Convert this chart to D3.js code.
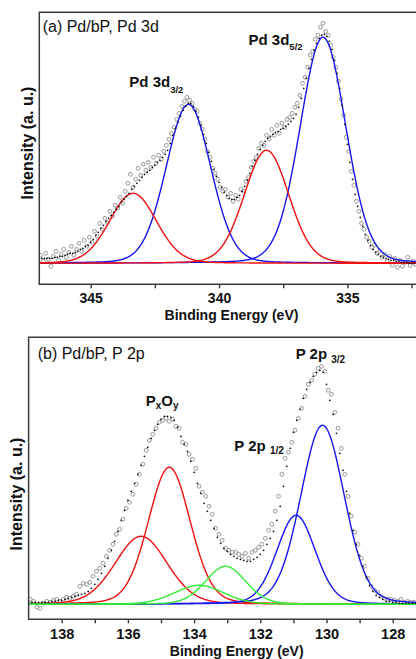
<!DOCTYPE html>
<html><head><meta charset="utf-8">
<script src="https://cdn.jsdelivr.net/npm/d3@7/dist/d3.min.js"></script>
<style>
body{margin:0;background:#fff}
svg{display:block}
text{font-family:"Liberation Sans",Arial,Helvetica,sans-serif;fill:#111}
</style>
</head><body>
<svg id="chart" width="416" height="659"></svg>
<script>
// ---------- Panel (a): Pd 3d ----------
const pdStart = 347.0, pdCircStart = 346.95, pdStep = 0.1;
const pdEnvelope = [
  5,5,5,5,5,5,6,6,7,7,
  8,9,10,10,11,12,14,15,17,18,
  21,24,28,31,35,38,42,45,48,51,
  54,57,61,64,67,70,74,77,80,83,
  86,89,91,93,96,98,101,103,106,109,
  113,120,128,135,141,147,153,157,160,160,
  157,152,146,138,129,120,111,102,94,87,
  81,76,71,68,65,64,64,66,68,72,
  77,83,90,97,103,109,114,118,122,125,
  127,129,131,132,134,135,137,139,142,145,
  149,156,165,175,185,195,204,213,220,225,
  228,229,227,222,214,203,190,175,158,139,
  119,101,84,69,57,46,37,29,23,18,
  14,11,9,7,6,5,4,3,3,2,
  2,1,1,1,0,0,0,0
];
const pdCircles = [
  8,2,10,4,-3,7,12,3,9,14,
  6,11,17,8,14,20,12,23,17,26,
  21,32,27,40,34,45,41,52,47,58,
  55,66,60,72,80,89,76,84,95,88,
  99,93,101,96,106,100,108,104,112,118,
  124,130,136,144,150,157,162,166,163,160,
  154,152,140,134,124,112,106,95,90,84,
  76,72,74,66,70,62,68,64,74,72,
  82,86,96,102,106,115,120,118,128,124,
  134,128,138,130,140,136,144,146,150,156,
  160,168,180,186,196,208,212,224,228,236,
  240,232,228,218,206,196,182,164,148,126,
  112,92,78,62,52,40,34,26,22,16,
  18,10,12,6,9,2,7,-2,5,-4,
  3,-3,1,6,-2,2,-1
];
const pdPeakStates  = ["Pd2+", "Pd0", "Pd2+", "Pd0"];
const pdPeakCenters = [343.35, 341.19, 338.15, 335.95];
const pdPeakHeights = [70, 159, 113, 226];
const pdPeakFwhm    = [2.15, 2.05, 2.05, 2.1];
const pdMajorTicks = [345, 340, 335];
const pdMinorTicks = [342.5, 337.5, 332.5];

// ---------- Panel (b): P 2p ----------
const pStart = 139.0, pCircStart = 138.95, pStep = 0.1;
const pEnvelope = [
  2,2,2,2,2,2,2,3,3,4,
  4,5,6,7,8,9,10,11,13,16,
  20,25,31,38,46,54,63,73,84,94,
  104,113,121,130,139,148,157,166,174,180,
  185,188,188,187,184,177,168,160,153,143,
  132,121,111,101,93,84,76,67,61,56,
  53,50,48,46,45,44,43,43,45,47,
  50,54,60,66,73,84,98,118,138,156,
  172,184,195,206,215,222,228,232,234,232,
  220,204,190,171,151,134,113,91,74,60,
  49,38,27,19,13,9,7,5,3,3,
  2,2,1,1,1,1,1,1
];
const pCircles = [
  5,3,-3,-4,1,3,2,4,5,3,
  5,7,6,8,10,18,21,20,22,28,
  33,36,41,48,54,60,70,75,85,96,
  102,110,120,130,140,154,164,170,176,182,
  184,186,183,185,178,176,162,160,150,145,
  136,118,112,108,98,90,76,70,64,56,
  54,52,52,50,48,51,46,52,54,57,
  60,66,74,80,93,108,130,146,152,162,
  174,186,196,208,220,224,230,236,238,233,
  214,210,192,176,156,130,108,88,72,60,
  46,38,26,18,14,12,8,6,5,5,
  4,3,5,2,3,2,2
];
const pPeakStates  = ["PxOy", "PxOy", "P-Pd", "P-Pd", "bP", "bP"];
const pPeakCenters = [135.6, 134.75, 133.85, 133.05, 130.92, 130.12];
const pPeakHeights = [68, 137, 19, 38, 89, 179];
const pPeakFwhm    = [1.86, 1.5, 1.76, 1.44, 1.37, 1.56];
const pMajorTicks = [138, 136, 134, 132, 130, 128];
const pMinorTicks = [137, 135, 133, 131, 129];

// ---------- styles ----------
const stateColor = {"Pd0":"#1515f0","Pd2+":"#f01010","PxOy":"#f01010","P-Pd":"#33ee33","bP":"#1515f0"};
const frameColor = "#3a3a3a";

const svg = d3.select("#chart");

function pseudoVoigt(x, c, h, w, eta){
  const d = (x - c) / w;
  return h * ((1 - eta) * Math.exp(-4 * Math.LN2 * d * d) + eta / (1 + 4 * d * d));
}

function drawPanel(cfg){
  const x = d3.scaleLinear().domain(cfg.xDomain).range(cfg.xRange);
  const y = d3.scaleLinear().domain(cfg.yDomain).range(cfg.yRange);
  const g = svg.append("g");
  const [x0, x1] = cfg.xRange, [yb, yt] = cfg.yRange;

  g.append("clipPath").attr("id", cfg.id + "clip")
    .append("rect").attr("x", x0).attr("y", yt).attr("width", x1 - x0).attr("height", yb - yt);
  const plot = g.append("g").attr("clip-path", `url(#${cfg.id}clip)`);

  // data circles
  plot.append("g").selectAll("circle").data(cfg.circles).join("circle")
    .attr("cx", (v, i) => x(cfg.circStart - i * cfg.step))
    .attr("cy", v => y(v))
    .attr("r", 1.9).attr("fill", "none").attr("stroke", "#8c8c8c").attr("stroke-width", 0.9);

  // fitted components
  const grid = d3.range(cfg.xDomain[0], cfg.xDomain[1], -0.02).concat([cfg.xDomain[1]]);
  const line = d3.line().x(d => x(d[0])).y(d => y(d[1]));
  cfg.order.forEach(state => {
    cfg.centers.forEach((c, k) => {
      if (cfg.states[k] !== state) return;
      const pts = grid.map(e => [e, pseudoVoigt(e, c, cfg.heights[k], cfg.fwhm[k], cfg.eta)]);
      plot.append("path").attr("d", line(pts)).attr("fill", "none")
        .attr("stroke", stateColor[state]).attr("stroke-width", cfg.lw);
    });
  });

  // envelope dots
  plot.append("g").selectAll("circle").data(cfg.envelope).join("circle")
    .attr("cx", (v, i) => x(cfg.start - i * cfg.step))
    .attr("cy", v => y(v))
    .attr("r", 0.9).attr("fill", "#111");

  // frame (right edge outside view)
  g.append("path").attr("d", `M${x1},${yt}H${x0}V${yb}H${x1}`)
    .attr("fill", "none").attr("stroke", frameColor).attr("stroke-width", 1.5);

  // x axis
  const allTicks = cfg.major.concat(cfg.minor);
  const axis = d3.axisBottom(x).tickValues(allTicks).tickSize(4).tickSizeOuter(0).tickPadding(5)
    .tickFormat(d => cfg.major.includes(d) ? d3.format("d")(d) : "");
  const ga = g.append("g").attr("transform", `translate(0,${yb})`).call(axis);
  ga.select(".domain").remove();
  ga.selectAll("line").attr("stroke", frameColor).attr("stroke-width", 1.4);
  ga.selectAll("text").attr("font-family", null).attr("font-size", cfg.tickFont)
    .attr("font-weight", "bold").style("fill", "#111");

  // axis titles
  g.append("text").attr("x", cfg.xTitle[0]).attr("y", cfg.xTitle[1]).attr("text-anchor", "middle")
    .attr("font-size", 14).attr("font-weight", "bold").text("Binding Energy (eV)");
  g.append("text").attr("transform", `translate(${cfg.yTitle[0]},${cfg.yTitle[1]}) rotate(-90)`)
    .attr("text-anchor", "middle").attr("dominant-baseline", "central")
    .attr("font-size", 16).attr("font-weight", "bold").text("Intensity (a. u.)");

  // panel title
  g.append("text").attr("x", cfg.title[0]).attr("y", cfg.title[1]).attr("font-size", 16).text(cfg.titleText);

  // peak labels
  cfg.labels.forEach(L => {
    const t = g.append("text").attr("x", L.x).attr("y", L.y).attr("font-weight", "bold").attr("font-size", 15);
    L.parts.forEach(p => {
      const s = t.append("tspan").text(p.t);
      if (p.sub) s.attr("font-size", p.fs || 10).attr("dy", p.dy);
      else if (p.dy) s.attr("dy", p.dy);
    });
  });
}

drawPanel({
  id: "a",
  xDomain: [347, 332.25], xRange: [39.3, 418],
  yDomain: [-21, 251], yRange: [284.3, 12.3],
  start: pdStart, circStart: pdCircStart, step: pdStep,
  envelope: pdEnvelope, circles: pdCircles,
  states: pdPeakStates, centers: pdPeakCenters, heights: pdPeakHeights, fwhm: pdPeakFwhm,
  eta: 0.1, order: ["Pd0", "Pd2+"], lw: 1.4,
  major: pdMajorTicks, minor: pdMinorTicks, tickFont: 14,
  xTitle: [231.5, 319.5], yTitle: [27, 143],
  title: [42.7, 32.3], titleText: "(a) Pd/bP, Pd 3d",
  labels: [
    {x: 129.3, y: 87.3, parts: [{t: "Pd 3d"}, {t: "3/2", sub: true, dy: 5.5, fs: 9.5}]},
    {x: 248.5, y: 45, parts: [{t: "Pd 3d"}, {t: "5/2", sub: true, dy: 5, fs: 9.5}]}
  ]
});

drawPanel({
  id: "b",
  xDomain: [139, 127.2], xRange: [28.6, 419.2],
  yDomain: [-15, 267], yRange: [619.3, 337.3],
  start: pStart, circStart: pCircStart, step: pStep,
  envelope: pEnvelope, circles: pCircles,
  states: pPeakStates, centers: pPeakCenters, heights: pPeakHeights, fwhm: pPeakFwhm,
  eta: 0.15, order: ["PxOy", "bP", "P-Pd"], lw: 1.4,
  major: pMajorTicks, minor: pMinorTicks, tickFont: 14.5,
  xTitle: [236.7, 656], yTitle: [16.7, 494],
  title: [37.7, 359.3], titleText: "(b) Pd/bP, P 2p",
  labels: [
    {x: 145.7, y: 405.7, parts: [{t: "P"}, {t: "x", sub: true, dy: 3, fs: 10}, {t: "O", dy: -3}, {t: "y", sub: true, dy: 3, fs: 10}]},
    {x: 234.3, y: 450.7, parts: [{t: "P 2p "}, {t: "1/2", sub: true, dy: 3.5, fs: 10}]},
    {x: 295.7, y: 359.3, parts: [{t: "P 2p "}, {t: "3/2", sub: true, dy: 3.5, fs: 10}]}
  ]
});
</script>
</body></html>
